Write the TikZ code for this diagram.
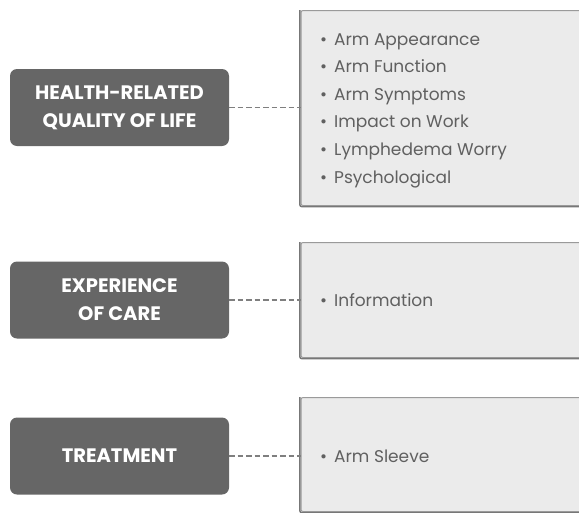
\documentclass[tikz,border=0pt]{standalone}
\usepackage{fontspec}
\setmainfont{Poppins}
\definecolor{hdrfill}{HTML}{666666}
\definecolor{listfill}{HTML}{EBEBEB}
\definecolor{listdraw}{HTML}{9A9A9A}
\definecolor{shadowcol}{HTML}{777777}
\definecolor{listtext}{HTML}{606060}
\definecolor{linkcol}{HTML}{7F7F7F}
\begin{document}
\begin{tikzpicture}[x=1pt,y=-1pt,
  hdr/.style={draw=none,fill=hdrfill,rounded corners=7pt,minimum width=219pt,minimum height=77pt,
    text=white,font=\fontsize{19.5}{28}\selectfont\bfseries,align=center,inner sep=0pt},
  listbox/.style={draw=listdraw,fill=listfill,line width=1pt,rounded corners=2pt,anchor=north west,
    minimum width=300pt,inner sep=0pt},
  shadowbox/.style={draw=shadowcol,line width=1.4pt,rounded corners=2pt},
  items/.style={anchor=west,text=listtext,font=\fontsize{17}{27.6}\selectfont,align=left,inner sep=0pt},
  link/.style={draw=linkcol,line width=1.2pt,dash pattern=on 5.5pt off 3pt}]
\useasboundingbox (0,0) rectangle (579,512);
\clip (0,0) rectangle (579,512);
% right boxes
\node[listbox,minimum height=195pt] (lb1) at (300.5,10) {};
\node[listbox,minimum height=115pt] (lb2) at (300.5,242) {};
\node[listbox,minimum height=114pt] (lb3) at (300.5,397) {};
\foreach \b in {lb1,lb2,lb3}{
  \draw[shadowbox] ([xshift=-0.7pt]\b.north west) |- ([yshift=-0.7pt]\b.south east);
}
% left boxes
\node[hdr] (h1) at (119.5,107.5) {HEALTH-RELATED\\QUALITY OF LIFE};
\node[hdr] (h2) at (119.5,300) {EXPERIENCE\\OF CARE};
\node[hdr] (h3) at (119.5,456) {TREATMENT};
% items
\node[items] (i1) at (320,110.5) {\textbullet\hspace{7pt}Arm Appearance\\\textbullet\hspace{7pt}Arm Function\\\textbullet\hspace{7pt}Arm Symptoms\\\textbullet\hspace{7pt}Impact on Work\\\textbullet\hspace{7pt}Lymphedema Worry\\\textbullet\hspace{7pt}Psychological};
\node[items] (i2) at (320,300) {\textbullet\hspace{7pt}Information};
\node[items] (i3) at (320,456) {\textbullet\hspace{7pt}Arm Sleeve};
% links
\draw[link] (h1.east) -- (h1.east -| lb1.west);
\draw[link] (h2.east) -- (h2.east -| lb2.west);
\draw[link] (h3.east) -- (h3.east -| lb3.west);
\end{tikzpicture}
\end{document}
